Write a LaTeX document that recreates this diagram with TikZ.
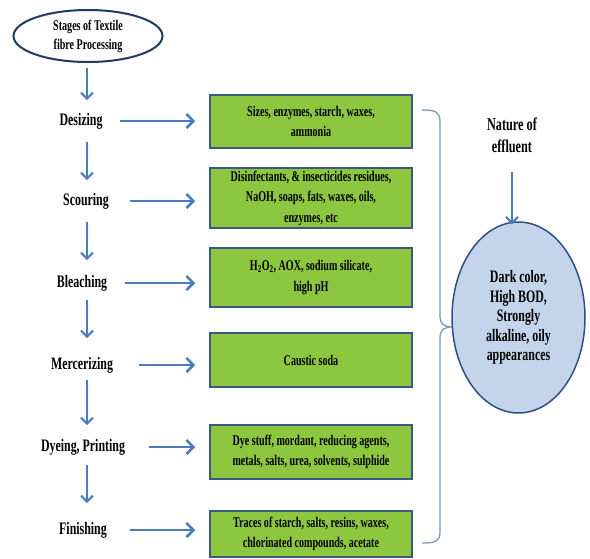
\documentclass[tikz,border=0pt]{standalone}
\usepackage{fontspec}
\setmainfont{Liberation Serif}[FakeStretch=0.68]
\usetikzlibrary{arrows.meta,shapes.geometric,calc}
\definecolor{arrblue}{HTML}{4A7EBB}
\definecolor{boxgreen}{HTML}{8DC63F}
\definecolor{boxborder}{HTML}{3C5A80}
\definecolor{circfill}{HTML}{C4D4EB}
\definecolor{circborder}{HTML}{2F5080}
\definecolor{ellborder}{HTML}{1F3864}
\definecolor{bracecol}{HTML}{7F98BC}
\begin{document}
\begin{tikzpicture}[x=1pt,y=-1pt,
 stagelbl/.style={font=\fontsize{17.5}{19}\selectfont\bfseries, inner sep=1pt},
 gbox/.style={draw=boxborder, line width=1.5pt, fill=boxgreen, minimum width=202pt,
   align=center, font=\fontsize{14.8}{20.5}\selectfont\bfseries, inner sep=0pt},
 varr/.style={draw=arrblue, line width=2pt, -{Straight Barb[length=6pt,width=12pt]}},
 harr/.style={draw=arrblue, line width=2.6pt, -{Straight Barb[length=7pt,width=14pt]}},
]
\useasboundingbox (0,0) rectangle (590,558);
\fill[white] (0,0) rectangle (590,558);

\node[ellipse, draw=ellborder, line width=2pt, minimum width=149pt, minimum height=52pt,
  inner sep=0pt, align=center, font=\fontsize{14.8}{19}\selectfont\bfseries] (stage) at (88,36)
  {Stages of Textile\\fibre Processing};

\node[stagelbl] (desizing) at (81,121) {Desizing};
\node[stagelbl] (scouring) at (86,201) {Scouring};
\node[stagelbl] (bleaching) at (82,283) {Bleaching};
\node[stagelbl] (mercerizing) at (82,365) {Mercerizing};
\node[stagelbl] (dyeing) at (83,447) {Dyeing, Printing};
\node[stagelbl] (finishing) at (83,530) {Finishing};

\coordinate (ax) at (87,0);
\draw[varr, shorten <=32pt, shorten >=21pt] (stage.center -| ax) -- (desizing.center -| ax);
\draw[varr, shorten <=21pt, shorten >=21pt] (desizing.center -| ax) -- (scouring.center -| ax);
\draw[varr, shorten <=21pt, shorten >=23pt] (scouring.center -| ax) -- (bleaching.center -| ax);
\draw[varr, shorten <=17pt, shorten >=27pt] (bleaching.center -| ax) -- (mercerizing.center -| ax);
\draw[varr, shorten <=15pt, shorten >=22pt] (mercerizing.center -| ax) -- (dyeing.center -| ax);
\draw[varr, shorten <=18pt, shorten >=27pt] (dyeing.center -| ax) -- (finishing.center -| ax);

\node[gbox, minimum height=53pt] (b1) at (311,121.5) {Sizes, enzymes, starch, waxes,\\ammonia};
\node[gbox, minimum height=60pt] (b2) at (311,198) {Disinfectants, \& insecticides residues,\\NaOH, soaps, fats, waxes, oils,\\enzymes, etc};
\node[gbox, minimum height=59pt] (b3) at (311,277.5) {H\textsubscript{2}O\textsubscript{2}, AOX, sodium silicate,\\high pH};
\node[gbox, minimum height=54pt] (b4) at (311,360) {Caustic soda};
\node[gbox, minimum height=54pt] (b5) at (311,452) {Dye stuff, mordant, reducing agents,\\metals, salts, urea, solvents, sulphide};
\node[gbox, minimum height=46pt] (b6) at (311,534) {Traces of starch, salts, resins, waxes,\\chlorinated compounds, acetate};

\draw[harr, shorten <=39pt, shorten >=14pt] (desizing.center) -- (desizing.center -| b1.west);
\draw[harr, shorten <=44pt, shorten >=14pt] (scouring.center) -- (scouring.center -| b2.west);
\draw[harr, shorten <=43pt, shorten >=14pt] (bleaching.center) -- (bleaching.center -| b3.west);
\draw[harr, shorten <=57pt, shorten >=14pt] (mercerizing.center) -- (mercerizing.center -| b4.west);
\draw[harr, shorten <=66pt, shorten >=14pt] (dyeing.center) -- (dyeing.center -| b5.west);
\draw[harr, shorten <=47pt, shorten >=14pt] (finishing.center) -- (finishing.center -| b6.west);

% brace
\draw[bracecol, line width=1.3pt] (422,110) .. controls (436,110) and (440,112) .. (440,122)
  -- (440,316) .. controls (440,324) and (444,327) .. (452,327)
  .. controls (444,327) and (440,330) .. (440,338)
  -- (440,532) .. controls (440,541) and (436,543) .. (422,543);

\node[align=center, font=\fontsize{18}{22}\selectfont\bfseries, inner sep=1pt] (nature) at (512,135)
  {Nature of\\effluent};
\node[ellipse, draw=circborder, line width=1.5pt, fill=circfill, minimum width=133pt,
  minimum height=191pt, inner sep=0pt, align=center,
  font=\fontsize{17.5}{19.5}\selectfont\bfseries] (circ) at (518.5,317.5)
  {Dark color,\\High BOD,\\Strongly\\alkaline, oily\\appearances};
\draw[varr, shorten <=37pt, shorten >=-3pt] (nature.center) -- (nature.center |- circ.north);
\end{tikzpicture}
\end{document}
